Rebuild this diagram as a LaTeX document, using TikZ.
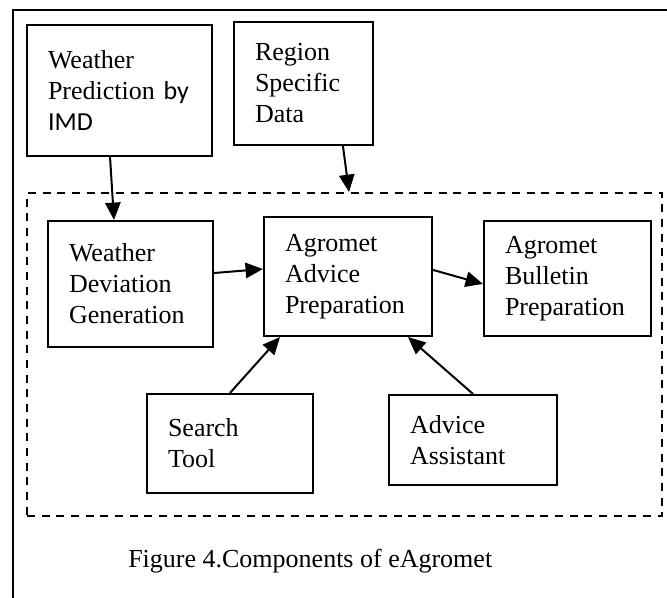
\documentclass[tikz,border=0pt]{standalone}
\usepackage{fontspec}
\setmainfont{Liberation Serif}
\newfontfamily\calibfont{Carlito}
\usetikzlibrary{arrows.meta}

\begin{document}
\begin{tikzpicture}[x=0.75pt,y=0.75pt,yscale=-1,xscale=1,
  compbox/.style={draw, line width=1.6pt, align=left, inner xsep=15.75pt, inner ysep=0pt,
    font=\fontsize{19.5}{23.25}\selectfont},
  corebox/.style={draw, line width=1.5pt, dash pattern={on 6pt off 5pt}, inner sep=0pt},
  flow/.style={line width=1.5pt, -{Triangle[length=13pt,width=11.5pt]}},
  ]
\useasboundingbox (0,0) rectangle (667,598);

% Outer frame
\begin{scope}
\clip (0,0) rectangle (667,598);
\draw [line width=1.6pt] (13,610) -- (13,10) -- (680,10) ;
\end{scope}

% Dashed frame
\node (core) [corebox, minimum width=476.25pt, minimum height=242.25pt] at (344.5,354.5) {};

% Text Node
\node (wp) [compbox, text width=107.25pt, minimum height=98.25pt] at (119.5,90.5)
  {Weather\\ Prediction~{\calibfont by}\\ {\calibfont IMD}};
% Text Node
\node (rsd) [compbox, text width=72.75pt, minimum height=92.25pt] at (303.5,83.5)
  {Region\\ Specific\\ Data};
% Text Node
\node (wdg) [compbox, text width=92.25pt, minimum height=94.5pt] at (130.5,284)
  {Weather\\ Deviation\\ Generation};
% Text Node
\node (aap) [compbox, text width=94.5pt, minimum height=89.25pt] at (348,276.5)
  {Agromet\\ Advice\\ Preparation};
% Text Node
\node (abp) [compbox, text width=93.75pt, minimum height=86.25pt] at (567.5,278.5)
  {Agromet\\ Bulletin\\ Preparation};
% Text Node
\node (st) [compbox, text width=93pt, minimum height=74.25pt] at (230,443.5)
  {Search\\ Tool};
% Text Node
\node (aa) [compbox, text width=94.5pt, minimum height=67.5pt] at (473,440)
  {Advice\\ Assistant};

% Caption
\node (caption) [anchor=base west, inner sep=0pt, font=\fontsize{19.5}{23.25}\selectfont] at (128,567)
  {Figure 4.Components of eAgromet};

% Connection
\draw [flow] ([xshift=-7.1pt]wp.south) -- ([xshift=-12.4pt]wdg.north) ;
% Connection
\draw [flow] ([xshift=29.6pt]rsd.south) -- ([xshift=3.4pt]core.north) ;
% Connection
\draw [flow] ([yshift=-8.25pt]wdg.east) -- ([yshift=-5.6pt]aap.west) ;
% Connection
\draw [flow] ([yshift=-4.9pt]aap.east) -- ([yshift=4.1pt]abp.west) ;
% Connection
\draw [flow] (st.north) -- ([xshift=-51pt]aap.south) ;
% Connection
\draw [flow] (aa.north) -- ([xshift=45pt]aap.south) ;

\end{tikzpicture}
\end{document}
